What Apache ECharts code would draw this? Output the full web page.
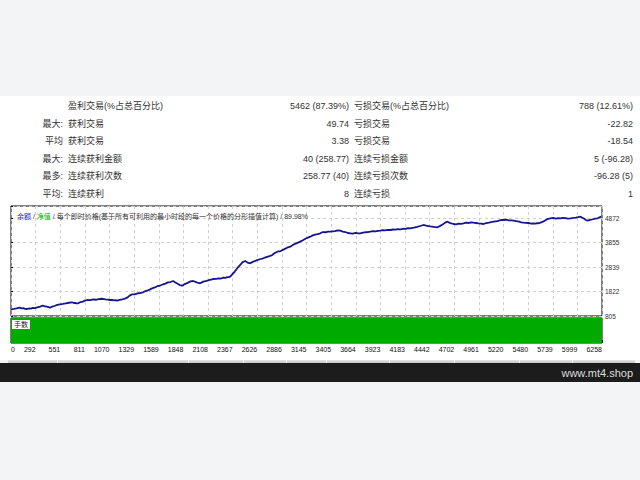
<!DOCTYPE html>
<html><head><meta charset="utf-8">
<script src="https://cdn.jsdelivr.net/npm/echarts@6/dist/echarts.min.js"></script>
<style>html,body{margin:0;padding:0;background:#f3f4f6}#c{width:640px;height:480px}</style>
</head><body><div id="c"></div>
<script>
// ---- Table data ----
const rowPrefix   = ['', '最大:', '平均', '最大:', '最多:', '平均:'];
const leftLabels  = ['盈利交易(%占总百分比)', '获利交易', '获利交易', '连续获利金额', '连续获利次数', '连续获利'];
const leftValues  = ['5462 (87.39%)', '49.74', '3.38', '40 (258.77)', '258.77 (40)', '8'];
const rightLabels = ['亏损交易(%占总百分比)', '亏损交易', '亏损交易', '连续亏损金额', '连续亏损次数', '连续亏损'];
const rightValues = ['788 (12.61%)', '-22.82', '-18.54', '5 (-96.28)', '-96.28 (5)', '1'];

// ---- Axis tick labels ----
const xTickLabels = ['0','292','551','811','1070','1329','1589','1848','2108','2367','2626','2886','3145','3405','3664','3923','4183','4442','4702','4961','5220','5480','5739','5999','6258'];
const yTickLabels = ['805','1822','2839','3855','4872'];

// ---- Balance curve: [trade number, balance] ----
const balancePoints = [
  [0,1083],[30,1100],[60,1120],[78,1140],[95,1149],[112,1125],[130,1130],[150,1105],[170,1096],[190,1120],
  [210,1110],[232,1145],[254,1130],[277,1165],[300,1180],[320,1215],[339,1232],[360,1200],[380,1190],[396,1170],
  [413,1149],[436,1195],[460,1220],[490,1265],[519,1291],[550,1310],[580,1330],[612,1355],[647,1374],[664,1345],
  [680,1350],[695,1325],[710,1332],[735,1380],[760,1400],[783,1445],[806,1469],[838,1460],[870,1490],[905,1480],
  [943,1511],[970,1520],[1000,1495],[1025,1485],[1049,1469],[1070,1475],[1090,1455],[1107,1460],[1124,1440],[1150,1470],
  [1180,1500],[1205,1530],[1230,1564],[1256,1650],[1283,1706],[1310,1700],[1340,1740],[1370,1760],[1399,1789],[1425,1840],
  [1450,1870],[1473,1910],[1495,1955],[1522,1990],[1550,2040],[1580,2070],[1611,2121],[1635,2150],[1660,2200],[1688,2215],
  [1717,2258],[1740,2200],[1760,2150],[1786,2090],[1813,2062],[1840,2130],[1870,2180],[1900,2240],[1929,2258],[1966,2200],
  [2003,2162],[2036,2230],[2070,2260],[2105,2300],[2141,2340],[2170,2345],[2200,2370],[2224,2360],[2247,2394],[2270,2390],
  [2290,2420],[2306,2415],[2321,2436],[2345,2540],[2370,2650],[2398,2800],[2427,2922],[2452,3040],[2480,3088],[2505,3020],
  [2533,2992],[2565,3060],[2600,3110],[2636,3160],[2671,3200],[2695,3240],[2720,3270],[2745,3300],[2767,3337],[2793,3420],
  [2820,3473],[2855,3500],[2890,3570],[2924,3640],[2957,3681],[2988,3760],[3020,3820],[3058,3880],[3095,3959],[3132,4040],
  [3169,4096],[3195,4150],[3220,4180],[3248,4200],[3275,4237],[3302,4290],[3330,4280],[3356,4310],[3381,4303],[3405,4320],
  [3430,4330],[3460,4360],[3487,4345],[3513,4310],[3540,4290],[3566,4250],[3593,4237],[3620,4220],[3650,4250],[3675,4230],
  [3699,4237],[3725,4265],[3750,4280],[3778,4290],[3805,4303],[3833,4325],[3860,4320],[3886,4340],[3911,4345],[3935,4370],
  [3960,4360],[3990,4380],[4017,4374],[4044,4395],[4070,4390],[4096,4410],[4123,4403],[4150,4425],[4180,4420],[4205,4455],
  [4229,4445],[4265,4470],[4300,4500],[4335,4540],[4367,4582],[4405,4550],[4440,4520],[4478,4500],[4516,4486],[4545,4545],
  [4570,4600],[4597,4680],[4622,4718],[4652,4660],[4685,4623],[4712,4610],[4740,4640],[4765,4630],[4791,4652],[4820,4680],
  [4850,4665],[4873,4690],[4897,4677],[4925,4665],[4950,4650],[4978,4640],[5003,4623],[5030,4660],[5060,4680],[5085,4700],
  [5109,4718],[5135,4735],[5160,4750],[5188,4790],[5215,4789],[5243,4800],[5270,4775],[5296,4770],[5321,4760],[5350,4740],
  [5380,4720],[5403,4690],[5427,4677],[5453,4670],[5480,4665],[5506,4640],[5533,4652],[5552,4640],[5570,4660],[5590,4655],
  [5607,4677],[5633,4720],[5660,4780],[5687,4840],[5713,4860],[5740,4875],[5770,4850],[5795,4870],[5819,4860],[5845,4880],
  [5870,4870],[5898,4850],[5925,4860],[5953,4875],[5980,4890],[6005,4905],[6031,4926],[6050,4880],[6070,4840],[6088,4790],
  [6106,4760],[6133,4790],[6160,4820],[6186,4850],[6212,4860],[6231,4900],[6250,4926]
];

// ---- Lot size panel ----
const lotTrades = [0, 6258];
const lotSizes = [0.1, 0.1];

const FONT = "'Liberation Sans','Noto Sans CJK SC',sans-serif";
const X_MAX = 6258, X_STEP = 6258 / 24;
const Y_MIN = 805, Y_STEP = 1016.75, Y_MAX = 5370;

const chart = echarts.init(document.getElementById('c'), null, {renderer: 'svg', width: 640, height: 480});

const rowsY = [106, 123.5, 141, 158.5, 176, 193.5];
const txt = (x, y, text, align, size, fill) => ({
  type: 'text', z: 100, silent: true,
  style: {x, y, text, textAlign: align, textVerticalAlign: 'middle', fontSize: size || 9, fontFamily: FONT, fill: fill || '#333'}
});

const graphics = [
  {type: 'rect', z: -100, shape: {x: 0, y: 96, width: 640, height: 264}, style: {fill: '#ffffff'}},
  {type: 'rect', z: 100, shape: {x: 0, y: 363, width: 640, height: 19}, style: {fill: '#1c1c1c'}},
  txt(633, 372.5, 'www.mt4.shop', 'right', 11, '#dcdcdc')
];
const tabs = [[8,57],[58,188],[189,243],[244,286],[287,326],[327,389],[390,454],[455,519],[520,572],[573,635]];
tabs.forEach(t => graphics.push({type: 'rect', z: 100, shape: {x: t[0], y: 360, width: t[1]-t[0], height: 3},
  style: {fill: new echarts.graphic.LinearGradient(0,0,0,1,[{offset:0,color:'#e6e6e6'},{offset:1,color:'#c4c4c4'}])}}));
rowsY.forEach((y, i) => {
  if (rowPrefix[i]) graphics.push(txt(63, y, rowPrefix[i], 'right'));
  graphics.push(txt(68, y, leftLabels[i], 'left'));
  graphics.push(txt(349, y, leftValues[i], 'right'));
  graphics.push(txt(354, y, rightLabels[i], 'left'));
  graphics.push(txt(633, y, rightValues[i], 'right'));
});
graphics.push({type: 'text', z: 100, silent: true,
  style: {x: 12, y: 320, text: '手数', fontSize: 7, fontFamily: FONT, fill: '#222', backgroundColor: '#ffffff', padding: [1, 2, 1, 2]}});

const xFmt = v => { const i = Math.round(v / X_STEP); return Math.abs(v / X_STEP - i) < 0.01 ? (xTickLabels[i] || '') : ''; };
const yFmt = v => { const i = Math.round((v - Y_MIN) / Y_STEP); return Math.abs((v - Y_MIN) / Y_STEP - i) < 0.01 ? (yTickLabels[i] || '') : ''; };

chart.setOption({
  backgroundColor: '#f3f4f6',
  animation: false,
  title: {
    text: '{b|余额} / {g|净值} / 每个即时价格(基于所有可利用的最小时段的每一个价格的分形插值计算) / 89.98%',
    left: 12, top: 208,
    textStyle: {fontSize: 7, color: '#333', fontWeight: 'normal', fontFamily: FONT,
      rich: {b: {color: '#2020ff', fontSize: 7, fontFamily: FONT}, g: {color: '#00b000', fontSize: 7, fontFamily: FONT}}}
  },
  grid: [
    {left: 11, right: 38, top: 206, height: 110, show: true, borderColor: '#000', borderWidth: 1, backgroundColor: '#fff'},
    {left: 11, right: 38, top: 318, height: 25, show: true, borderColor: '#000', borderWidth: 1, backgroundColor: '#fff'}
  ],
  xAxis: [
    {gridIndex: 0, type: 'value', min: 0, max: X_MAX, interval: X_STEP,
      axisLine: {show: false}, axisTick: {show: false}, axisLabel: {show: false},
      splitLine: {show: true, lineStyle: {color: '#cfcfcf', type: [3, 3], width: 1}}},
    {gridIndex: 1, type: 'value', min: 0, max: X_MAX, interval: X_STEP,
      axisLine: {show: false}, splitLine: {show: false},
      axisTick: {show: true, inside: true, length: 3, lineStyle: {color: '#000'}},
      axisLabel: {show: true, interval: 0, formatter: xFmt, fontSize: 7, color: '#111', fontFamily: FONT, margin: 3,
        align: 'right', alignMinLabel: 'left', hideOverlap: false}}
  ],
  yAxis: [
    {gridIndex: 0, type: 'value', position: 'right', min: Y_MIN, max: Y_MAX, interval: Y_STEP,
      axisLine: {show: false},
      axisTick: {show: true, length: 2, lineStyle: {color: '#000'}},
      axisLabel: {show: true, formatter: yFmt, fontSize: 6.5, color: '#333', fontFamily: FONT, margin: 3},
      splitLine: {show: true, lineStyle: {color: '#cfcfcf', type: [3, 3], width: 1}}},
    {gridIndex: 1, type: 'value', min: 0, max: 0.1, show: false}
  ],
  series: [
    {type: 'line', xAxisIndex: 0, yAxisIndex: 0, symbol: 'none', z: 5,
      data: balancePoints,
      lineStyle: {color: '#15158f', width: 1.8}},
    {type: 'line', xAxisIndex: 1, yAxisIndex: 1, symbol: 'none', z: 2,
      data: lotTrades.map((t, i) => [t, lotSizes[i]]),
      lineStyle: {width: 0}, areaStyle: {color: '#00aa00', opacity: 1}}
  ],
  graphic: graphics
});
</script></body></html>
